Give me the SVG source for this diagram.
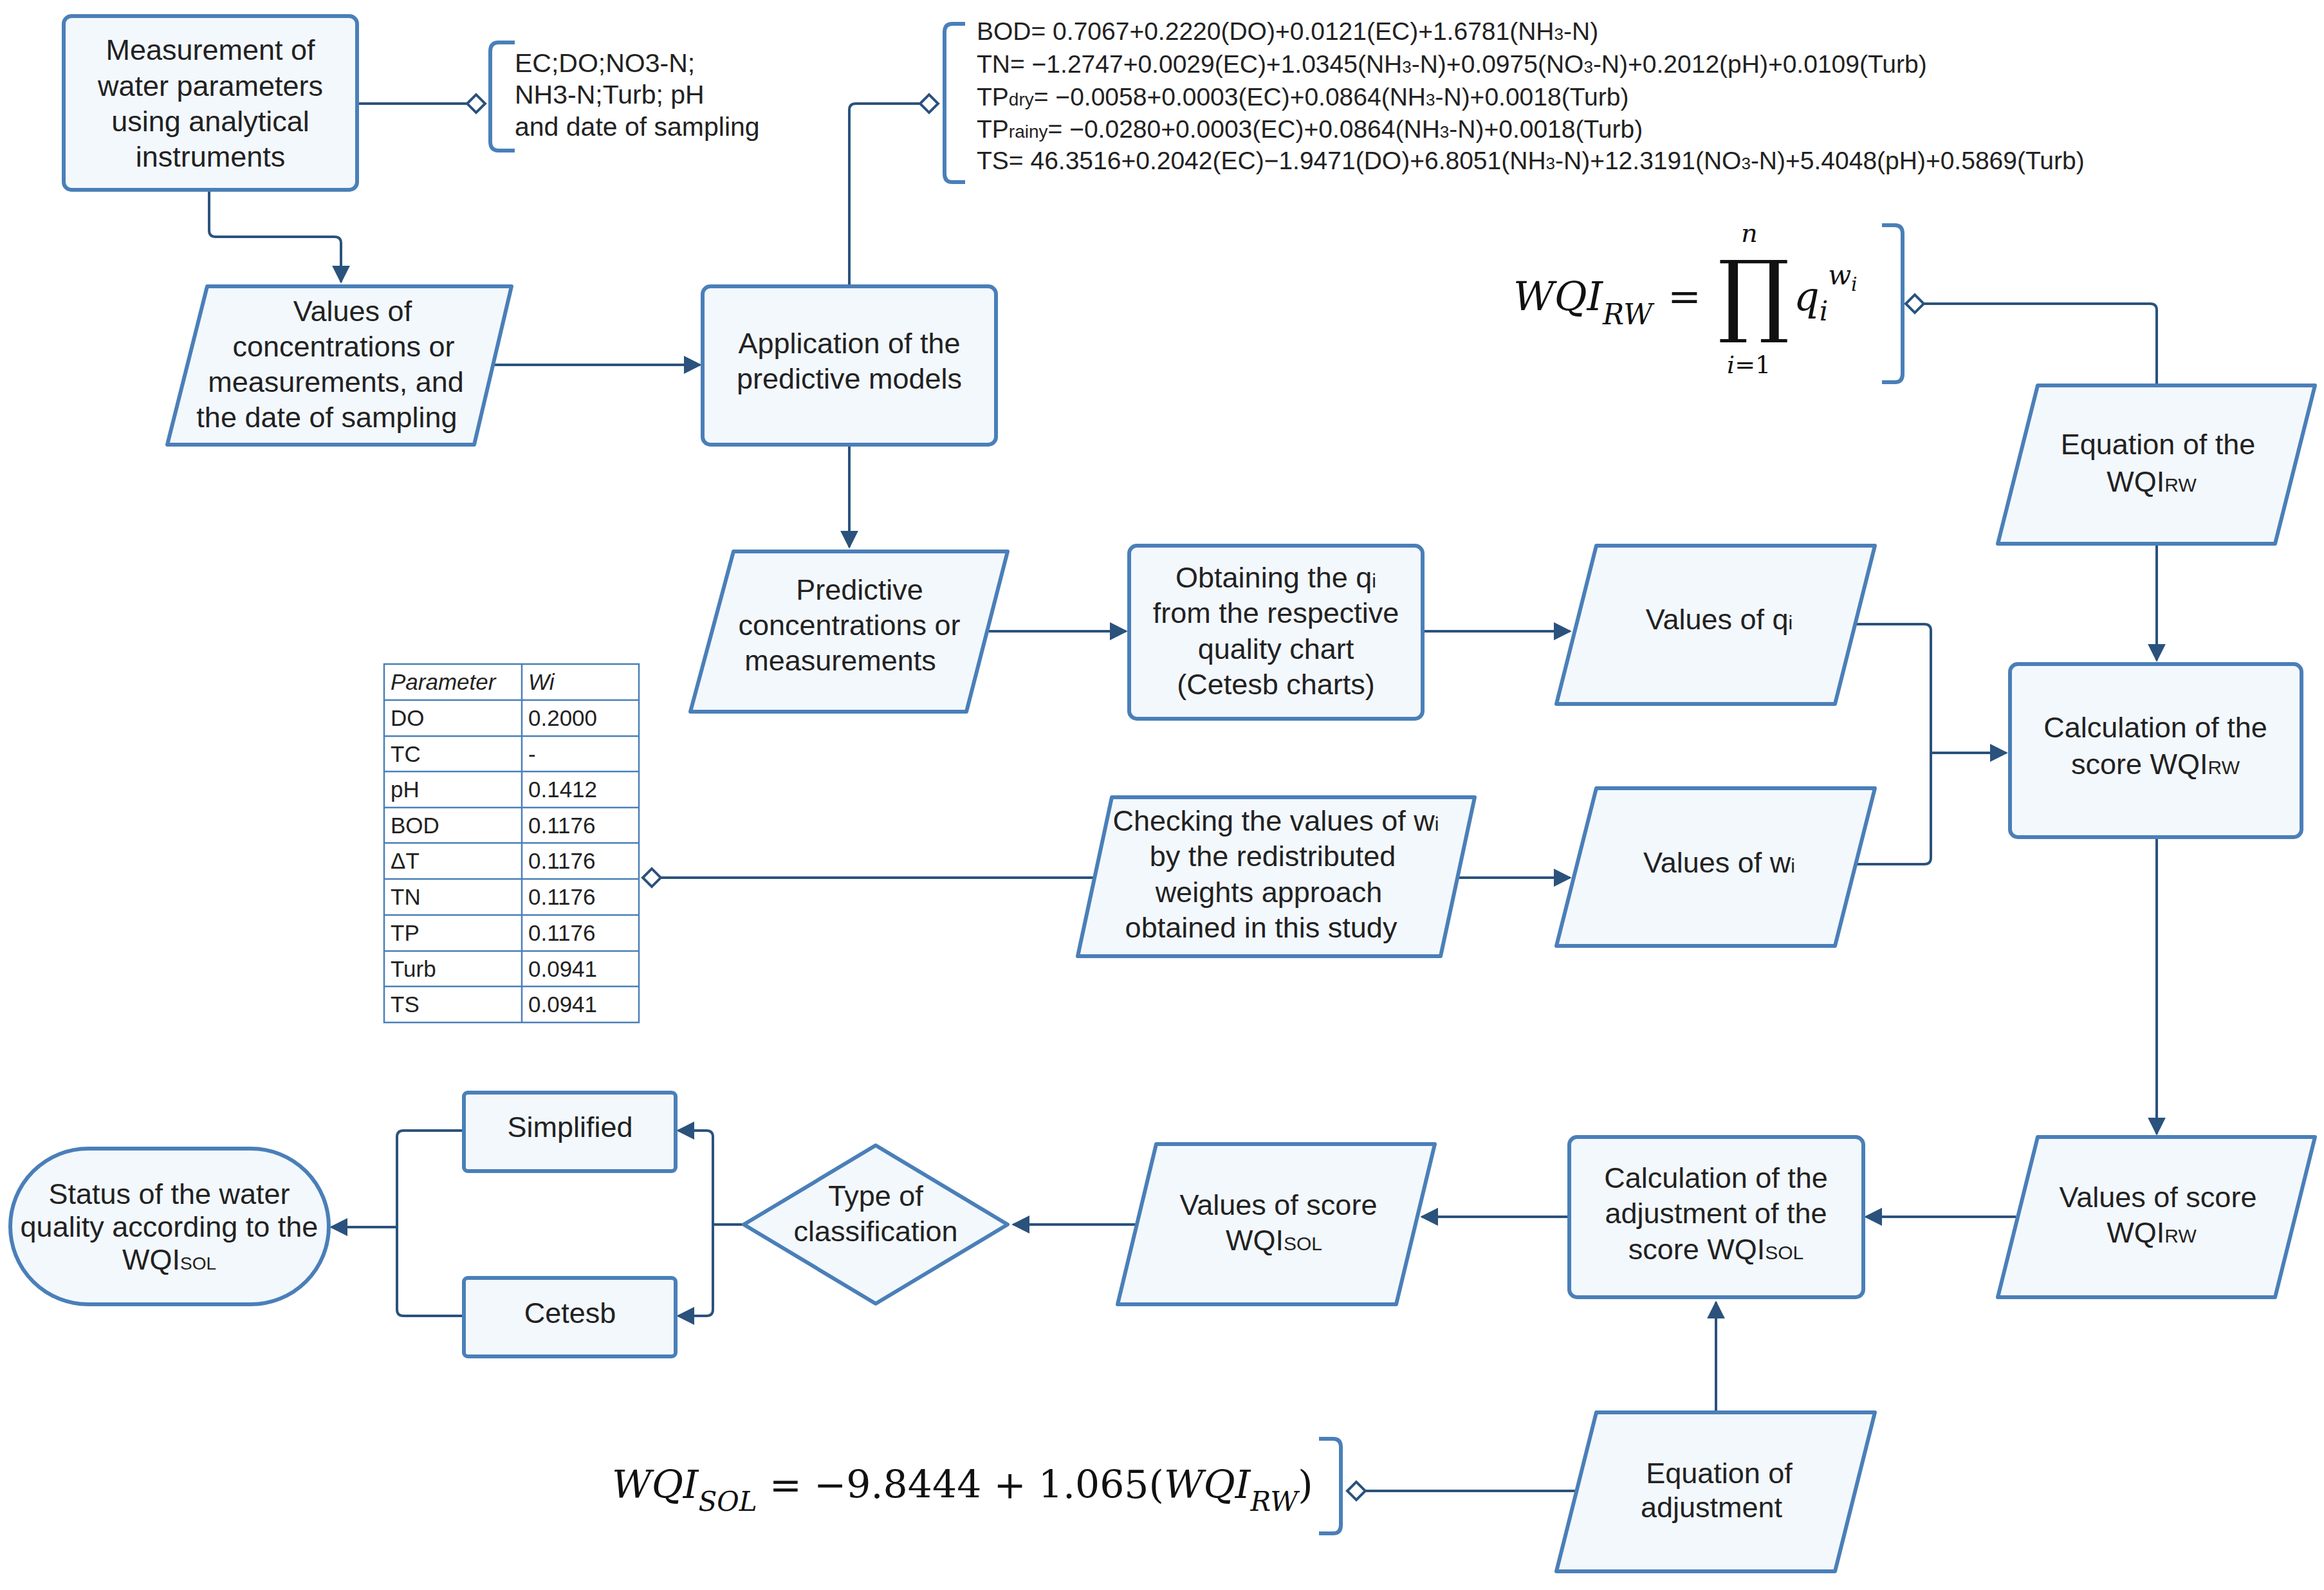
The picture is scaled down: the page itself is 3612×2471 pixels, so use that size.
<svg xmlns="http://www.w3.org/2000/svg" width="3612" height="2471" viewBox="0 0 3612 2471">
<defs>
<style>
.n{fill:#f3f8fd;stroke:#4a7fb8;stroke-width:6;stroke-linejoin:round}
.t{font-family:"Liberation Sans",Arial,sans-serif;font-size:45px;fill:#222;text-anchor:middle}
.s{font-family:"Liberation Sans",Arial,sans-serif;font-size:41px;fill:#222}
.e{font-family:"Liberation Sans",Arial,sans-serif;font-size:39px;fill:#222}
.c{fill:none;stroke:#2b527c;stroke-width:4}
.b{fill:none;stroke:#4a7fb8;stroke-width:6}
.d{fill:#fff;stroke:#2b527c;stroke-width:4}
.m{font-family:"DejaVu Serif","Liberation Serif",serif;font-style:italic;fill:#111}
.tb{font-family:"Liberation Sans",Arial,sans-serif;font-size:35px;fill:#222}
.tl{stroke:#4a7fb8;stroke-width:2.5;fill:none}
</style>
<marker id="a" viewBox="0 0 10 10" refX="9" refY="5" markerWidth="7" markerHeight="7" orient="auto" markerUnits="strokeWidth"><path d="M0,0L10,5L0,10z" fill="#2b527c"/></marker>
</defs>

<g id="connectors">
<path class="c" d="M555,161H726"/>
<path class="c" d="M325,295V358Q325,368 335,368H520Q530,368 530,378V438" marker-end="url(#a)"/>
<path class="c" d="M767,567H1088" marker-end="url(#a)"/>
<path class="c" d="M1320,445V171Q1320,161 1330,161H1430"/>
<path class="c" d="M1320,691V850" marker-end="url(#a)"/>
<path class="c" d="M1537,981H1750" marker-end="url(#a)"/>
<path class="c" d="M2211,981H2440" marker-end="url(#a)"/>
<path class="c" d="M2884,970H2991Q3001,970 3001,980V1333Q3001,1343 2991,1343H2884"/>
<path class="c" d="M3001,1170H3118" marker-end="url(#a)"/>
<path class="c" d="M1705,1364H1027"/>
<path class="c" d="M2257,1364H2440" marker-end="url(#a)"/>
<path class="c" d="M2990,472H3342Q3352,472 3352,482V599"/>
<path class="c" d="M3352,845V1026" marker-end="url(#a)"/>
<path class="c" d="M3352,1301V1762" marker-end="url(#a)"/>
<path class="c" d="M3133,1891H2900" marker-end="url(#a)"/>
<path class="c" d="M2439,1891H2210" marker-end="url(#a)"/>
<path class="c" d="M1769,1903H1575" marker-end="url(#a)"/>
<path class="c" d="M1156,1903H1108M1108,1767V2035" />
<path class="c" d="M1108,1767Q1108,1757 1098,1757H1054" marker-end="url(#a)"/>
<path class="c" d="M1108,2035Q1108,2045 1098,2045H1054" marker-end="url(#a)"/>
<path class="c" d="M721,1757H627Q617,1757 617,1767V2035Q617,2045 627,2045H721"/>
<path class="c" d="M617,1907H515" marker-end="url(#a)"/>
<path class="c" d="M2667,2195V2024" marker-end="url(#a)"/>
<path class="c" d="M2451,2317H2122"/>
<path class="d" d="M726,161L740,147L754,161L740,175Z"/>
<path class="d" d="M1430,161L1444,147L1458,161L1444,175Z"/>
<path class="d" d="M2962,472L2976,458L2990,472L2976,486Z"/>
<path class="d" d="M999,1364L1013,1350L1027,1364L1013,1378Z"/>
<path class="d" d="M2094,2317L2108,2303L2122,2317L2108,2331Z"/>
</g>

<g id="note-params">
<path class="b" d="M800,66H775Q762,66 762,80V220Q762,234 775,234H800"/>
<text class="s" x="800" y="112">EC;DO;NO3-N;</text>
<text class="s" x="800" y="161">NH3-N;Turb; pH</text>
<text class="s" x="800" y="211">and date of sampling</text>
</g>

<g id="note-models">
<path class="b" d="M1500,37H1480Q1468,37 1468,50V270Q1468,283 1480,283H1500"/>
<text class="e" x="1518" y="62">BOD= 0.7067+0.2220(DO)+0.0121(EC)+1.6781(NH<tspan font-size="26">3</tspan>-N)</text>
<text class="e" x="1518" y="113">TN= −1.2747+0.0029(EC)+1.0345(NH<tspan font-size="26">3</tspan>-N)+0.0975(NO<tspan font-size="26">3</tspan>-N)+0.2012(pH)+0.0109(Turb)</text>
<text class="e" x="1518" y="164">TP<tspan font-size="28">dry</tspan>= −0.0058+0.0003(EC)+0.0864(NH<tspan font-size="26">3</tspan>-N)+0.0018(Turb)</text>
<text class="e" x="1518" y="214">TP<tspan font-size="28">rainy</tspan>= −0.0280+0.0003(EC)+0.0864(NH<tspan font-size="26">3</tspan>-N)+0.0018(Turb)</text>
<text class="e" x="1518" y="263">TS= 46.3516+0.2042(EC)−1.9471(DO)+6.8051(NH<tspan font-size="26">3</tspan>-N)+12.3191(NO<tspan font-size="26">3</tspan>-N)+5.4048(pH)+0.5869(Turb)</text>
</g>

<g id="note-wqirw">
<path class="b" d="M2925,350H2945Q2957,350 2957,363V581Q2957,594 2945,594H2925"/>
<text class="m" x="2352" y="482" font-size="62">WQI<tspan font-size="44" dy="22">RW</tspan></text>
<text class="m" x="2592" y="482" font-size="62" font-style="normal">=</text>
<text class="m" x="2670" y="505" font-size="140" font-style="normal">∏</text>
<text class="m" x="2706" y="376" font-size="40">n</text>
<text class="m" x="2684" y="580" font-size="38">i<tspan font-style="normal">=1</tspan></text>
<text class="m" x="2788" y="482" font-size="62">q<tspan font-size="42" dy="16">i</tspan><tspan font-size="42" dy="-56">w</tspan><tspan font-size="30" dy="10">i</tspan></text>
</g>

<g id="note-wqisol">
<path class="b" d="M2050,2236H2072Q2084,2236 2084,2249V2370Q2084,2383 2072,2383H2050"/>
<text class="m" x="951" y="2328" font-size="60">WQI<tspan font-size="42" dy="20">SOL</tspan><tspan font-style="normal" font-size="60" dy="-20"> = −9.8444 + 1.065(</tspan>WQI<tspan font-size="42" dy="20">RW</tspan><tspan font-style="normal" font-size="60" dy="-20">)</tspan></text>
</g>

<g id="table">
<rect x="597" y="1032" width="396" height="557" fill="#fff" class="tl"/>
<path class="tl" d="M811,1032V1589M597,1088H993M597,1144H993M597,1199H993M597,1255H993M597,1310H993M597,1366H993M597,1422H993M597,1478H993M597,1533H993"/>
<g class="tb">
<text x="607" y="1072" font-style="italic">Parameter</text><text x="821" y="1072" font-style="italic">Wi</text>
<text x="607" y="1128">DO</text><text x="821" y="1128">0.2000</text>
<text x="607" y="1184">TC</text><text x="821" y="1184">-</text>
<text x="607" y="1239">pH</text><text x="821" y="1239">0.1412</text>
<text x="607" y="1295">BOD</text><text x="821" y="1295">0.1176</text>
<text x="607" y="1350">ΔT</text><text x="821" y="1350">0.1176</text>
<text x="607" y="1406">TN</text><text x="821" y="1406">0.1176</text>
<text x="607" y="1462">TP</text><text x="821" y="1462">0.1176</text>
<text x="607" y="1518">Turb</text><text x="821" y="1518">0.0941</text>
<text x="607" y="1573">TS</text><text x="821" y="1573">0.0941</text>
</g>
</g>

<g id="measurement">
<rect class="n" x="99" y="25" width="456" height="270" rx="12"/>
<text class="t" x="327" y="93">Measurement of</text>
<text class="t" x="327" y="149">water parameters</text>
<text class="t" x="327" y="204">using analytical</text>
<text class="t" x="327" y="259">instruments</text>
</g>

<g id="values-conc">
<path class="n" d="M322,445H795L737,691H260Z"/>
<text class="t" x="548" y="499">Values of</text>
<text class="t" x="534" y="554">concentrations or</text>
<text class="t" x="522" y="609">measurements, and</text>
<text class="t" x="508" y="664">the date of sampling</text>
</g>

<g id="application">
<rect class="n" x="1092" y="445" width="456" height="246" rx="12"/>
<text class="t" x="1320" y="549">Application of the</text>
<text class="t" x="1320" y="604">predictive models</text>
</g>

<g id="predictive">
<path class="n" d="M1140,857H1566L1502,1106H1073Z"/>
<text class="t" x="1336" y="932">Predictive</text>
<text class="t" x="1320" y="987">concentrations or</text>
<text class="t" x="1306" y="1042">measurements</text>
</g>

<g id="obtaining">
<rect class="n" x="1755" y="848" width="456" height="269" rx="12"/>
<text class="t" x="1983" y="913">Obtaining the q<tspan font-size="30">i</tspan></text>
<text class="t" x="1983" y="968">from the respective</text>
<text class="t" x="1983" y="1024">quality chart</text>
<text class="t" x="1983" y="1079">(Cetesb charts)</text>
</g>

<g id="values-qi">
<path class="n" d="M2481,848H2914L2852,1094H2419Z"/>
<text class="t" x="2672" y="978">Values of q<tspan font-size="30">i</tspan></text>
</g>

<g id="checking">
<path class="n" d="M1728,1239H2292L2239,1486H1675Z"/>
<text class="t" x="1983" y="1291">Checking the values of w<tspan font-size="30">i</tspan></text>
<text class="t" x="1978" y="1346">by the redistributed</text>
<text class="t" x="1972" y="1402">weights approach</text>
<text class="t" x="1960" y="1457">obtained in this study</text>
</g>

<g id="values-wi">
<path class="n" d="M2481,1225H2914L2852,1470H2419Z"/>
<text class="t" x="2672" y="1356">Values of w<tspan font-size="30">i</tspan></text>
</g>

<g id="equation-wqirw">
<path class="n" d="M3167,599H3598L3536,845H3105Z"/>
<text class="t" x="3354" y="706">Equation of the</text>
<text class="t" x="3344" y="764">WQI<tspan font-size="30">RW</tspan></text>
</g>

<g id="calc-score">
<rect class="n" x="3124" y="1032" width="453" height="269" rx="12"/>
<text class="t" x="3350" y="1146">Calculation of the</text>
<text class="t" x="3350" y="1203">score WQI<tspan font-size="30">RW</tspan></text>
</g>

<g id="values-wqirw">
<path class="n" d="M3167,1767H3598L3536,2016H3105Z"/>
<text class="t" x="3354" y="1876">Values of score</text>
<text class="t" x="3344" y="1931">WQI<tspan font-size="30">RW</tspan></text>
</g>

<g id="calc-adjust">
<rect class="n" x="2439" y="1767" width="457" height="249" rx="12"/>
<text class="t" x="2667" y="1846">Calculation of the</text>
<text class="t" x="2667" y="1901">adjustment of the</text>
<text class="t" x="2667" y="1957">score WQI<tspan font-size="30">SOL</tspan></text>
</g>

<g id="values-wqisol">
<path class="n" d="M1797,1778H2230L2170,2027H1737Z"/>
<text class="t" x="1987" y="1888">Values of score</text>
<text class="t" x="1980" y="1943">WQI<tspan font-size="30">SOL</tspan></text>
</g>

<g id="type">
<path class="n" d="M1361,1780L1566,1903L1361,2026L1156,1903Z"/>
<text class="t" x="1361" y="1874">Type of</text>
<text class="t" x="1361" y="1929">classification</text>
</g>

<g id="simplified">
<rect class="n" x="721" y="1698" width="329" height="122" rx="6"/>
<text class="t" x="886" y="1767">Simplified</text>
</g>

<g id="cetesb">
<rect class="n" x="721" y="1986" width="329" height="122" rx="6"/>
<text class="t" x="886" y="2056">Cetesb</text>
</g>

<g id="status">
<rect class="n" x="16" y="1785" width="495" height="242" rx="121"/>
<text class="t" x="263" y="1871" font-size="42">Status of the water</text>
<text class="t" x="263" y="1922" font-size="42">quality according to the</text>
<text class="t" x="263" y="1973" font-size="42">WQI<tspan font-size="28">SOL</tspan></text>
</g>

<g id="equation-adjust">
<path class="n" d="M2481,2195H2914L2852,2442H2419Z"/>
<text class="t" x="2672" y="2305">Equation of</text>
<text class="t" x="2660" y="2358">adjustment</text>
</g>
</svg>
